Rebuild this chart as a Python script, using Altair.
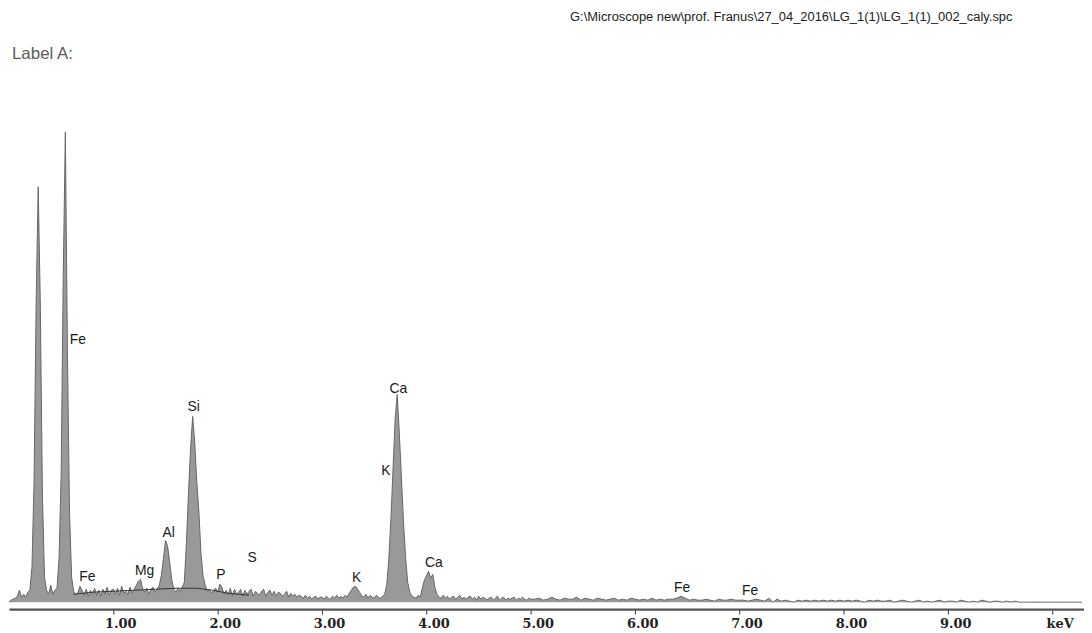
import altair as alt
import pandas as pd

# ---------------- data ----------------
# fine channels 0.00 - 5.00 keV (0.02 keV step)
counts_fine = [
    0, 2, 3, 4, 6, 12, 5, 8, 5, 10,
    12, 35, 120, 300, 418, 300, 110, 25, 12, 8,
    17, 8, 12, 14, 45, 130, 330, 473, 250, 90,
    25, 11, 7, 10, 16, 12, 7, 13, 6, 12,
    8, 14, 7, 12, 6, 13, 8, 15, 7, 12,
    13, 8, 14, 7, 16, 9, 11, 8, 15, 9,
    13, 17, 21, 23, 14, 10, 14, 8, 13, 15,
    10, 13, 17, 27, 44, 62, 56, 40, 22, 13,
    10, 14, 11, 15, 20, 60, 110, 155, 187, 160,
    120, 90, 48, 26, 17, 11, 13, 9, 12, 14,
    10, 18, 15, 8, 12, 7, 14, 6, 13, 8,
    10, 13, 6, 12, 8, 11, 13, 6, 11, 9,
    7, 11, 13, 6, 10, 12, 7, 11, 6, 10,
    9, 6, 8, 11, 5, 9, 6, 8, 5, 7,
    6, 4, 7, 4, 6, 3, 5, 6, 3, 5,
    5, 3, 6, 4, 3, 6, 4, 7, 4, 6,
    4, 7, 5, 9, 12, 15, 16, 13, 10, 6,
    5, 8, 4, 7, 5, 4, 7, 5, 4, 6,
    8, 18, 45, 85, 135, 185, 209, 170, 125, 80,
    45, 20, 10, 6, 5, 4, 7, 5, 14, 22,
    27, 31, 24, 28, 15, 8, 5, 4, 7, 4,
    6, 3, 5, 6, 3, 5, 7, 3, 5, 3,
    5, 6, 3, 5, 2, 6, 3, 5, 4, 2,
    4, 5, 2, 4, 6, 2, 4, 5, 2, 4,
    3, 4, 5, 2, 4, 3, 5, 3, 2, 4, 3,
]
# coarse channels 5.04 - 10.28 keV (0.04 keV step)
counts_coarse = [
    3, 4, 2, 3, 5, 3, 2, 4, 3, 3, 5, 2, 4, 3, 2, 4, 3, 2, 3, 4, 2, 3, 2, 4, 3,
    2, 3, 2, 4, 2, 3, 2, 3, 3, 4, 6, 4, 2, 3, 2, 2, 3, 2, 1, 3, 2, 2, 3, 2, 2,
    2, 1, 2, 3, 2, 1, 4, 0, 3, 1, 2, 1, 0, 2, 1, 2, 1, 2, 1, 2, 1, 2, 1, 2, 1,
    2, 1, 2, 1, 0, 2, 1, 2, 1, 1, 2, 0, 1, 2, 1, 0, 1, 2, 0, 1, 0, 1, 2, 0, 1,
    1, 0, 2, 1, 0, 1, 0, 2, 1, 0, 1, 1, 0, 1, 0, 1,
    0, 0, 0, 0, 0, 0, 0, 0, 0, 0, 0, 0, 0, 0, 0, 0,
]
energy_fine = [round(0.02 * i, 2) for i in range(len(counts_fine))]
energy_coarse = [round(5.04 + 0.04 * i, 2) for i in range(len(counts_coarse))]

# background fit curve
bg_energy = [0.62, 0.80, 1.00, 1.20, 1.40, 1.60, 1.80, 1.95, 2.10, 2.30]
bg_counts = [8, 10, 11, 12, 13, 14, 14, 12, 9, 7]

# element labels
label_text = ["Fe", "Fe", "Mg", "Al", "Si", "P", "S", "K", "K", "Ca", "Ca", "Fe", "Fe"]
label_energy = [0.66, 0.75, 1.30, 1.53, 1.77, 2.03, 2.33, 3.33, 3.61, 3.73, 4.07, 6.45, 7.10]
label_counts = [264, 25, 31, 70, 196, 27, 44, 24, 132, 215, 39, 14, 11]

tick_values = [1, 2, 3, 4, 5, 6, 7, 8, 9, 10]

header_path = "G:\\Microscope new\\prof. Franus\\27_04_2016\\LG_1(1)\\LG_1(1)_002_caly.spc"
header_label = "Label A:"

# ---------------- chart ----------------
spec = pd.DataFrame({"E": energy_fine + energy_coarse, "c": counts_fine + counts_coarse})
bg = pd.DataFrame({"E": bg_energy, "c": bg_counts})
labels = pd.DataFrame({"t": label_text, "E": label_energy, "c": label_counts})

xs = alt.Scale(domain=[0, 10.3], nice=False, zero=False)
ys = alt.Scale(domain=[0, 500], nice=False)

xaxis = alt.Axis(
    values=tick_values, labelExpr="datum.value == 10 ? 'keV' : format(datum.value, '.2f')",
    title=None, grid=False, offset=7, domainColor="#555555", domainWidth=2.5,
    tickColor="#333", tickSize=5, tickWidth=1, labelFont="DejaVu Serif",
    labelFontWeight="bold", labelFontSize=13, labelColor="#222", labelOffset=7,
    labelPadding=4,
)

area = alt.Chart(spec).mark_area(color="#6e6e6e", line={"color": "#666666", "strokeWidth": 1}).encode(
    x=alt.X("E:Q", scale=xs, axis=xaxis),
    y=alt.Y("c:Q", scale=ys, axis=None),
)

bgline = alt.Chart(bg).mark_line(color="#333333", strokeWidth=1).encode(
    x=alt.X("E:Q", scale=xs), y=alt.Y("c:Q", scale=ys)
)

text = alt.Chart(labels).mark_text(font="Liberation Sans", fontSize=14, color="#1a1a1a").encode(
    x=alt.X("E:Q", scale=xs), y=alt.Y("c:Q", scale=ys), text="t:N"
)

hdr = pd.DataFrame({"t": [header_path]})
hdr1 = alt.Chart(hdr).mark_text(font="Liberation Sans", fontSize=13, color="#222", align="right",
                                baseline="middle").encode(
    x=alt.value(1010), y=alt.value(-89), text="t:N")
hdr2 = alt.Chart(pd.DataFrame({"t": [header_label]})).mark_text(
    font="Liberation Sans", fontSize=17, color="#5a5a5a", align="left", baseline="middle").encode(
    x=alt.value(3), y=alt.value(-52), text="t:N")

chart = alt.layer(area, bgline, text, hdr1, hdr2).properties(
    width=1082, height=500,
    background="white",
    autosize=alt.AutoSizeParams(type="none"),
    padding={"left": 1, "top": 96, "right": 0, "bottom": 29},
).configure_view(strokeWidth=0)

chart.save("out.html", embed_options={"renderer": "svg", "actions": False})
